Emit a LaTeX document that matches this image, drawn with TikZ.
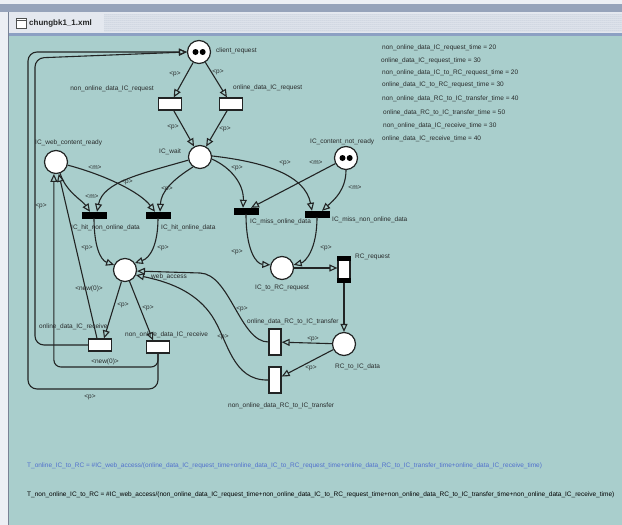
\documentclass[tikz,border=0pt]{standalone}
\usepackage{fontspec}
\setmainfont{Liberation Sans}
\usetikzlibrary{arrows.meta,patterns.meta}

\definecolor{canvas}{RGB}{169,206,204}
\definecolor{ink}{RGB}{34,36,36}
\definecolor{txt}{RGB}{40,43,43}
\definecolor{formulablue}{RGB}{80,112,205}
\definecolor{framebg}{RGB}{236,239,244}
\definecolor{bandc}{RGB}{150,163,186}
\definecolor{titlebg}{RGB}{228,232,239}
\definecolor{titleline}{RGB}{140,160,195}

\begin{document}
\begin{tikzpicture}[x=1pt,y=-1pt,
  place/.style={circle,draw=ink,fill=white,line width=1.2pt,minimum size=23pt,inner sep=0pt},
  trans/.style={rectangle,draw=ink,fill=white,line width=1.2pt,minimum width=23pt,minimum height=12pt,inner sep=0pt},
  vtrans/.style={trans,minimum width=12pt,minimum height=26pt},
  imm/.style={rectangle,fill=black,draw=black,minimum width=24pt,minimum height=6pt,inner sep=0pt},
  arc/.style={draw=ink,line width=1.1pt,-{Triangle[open,length=8pt,width=7pt]}},
  lbl/.style={font=\fontsize{6.5}{7}\selectfont,text=txt,inner sep=0pt},
  token/.style={circle,fill=black,inner sep=0pt,minimum size=6pt}
]
\useasboundingbox (0,0) rectangle (622,525);

% window frame
\fill[framebg] (0,0) rectangle (622,525);
\fill[bandc] (0,4) rectangle (622,12);
\fill[titlebg] (9,12) rectangle (622,33);
\fill[pattern={Dots[distance=2pt,radius=0.5pt]},pattern color=bandc] (104,14) rectangle (622,31);
\fill[titleline] (9,33) rectangle (622,35.5);
\fill[canvas] (9,35.5) rectangle (622,525);
\draw[bandc!80!black,line width=1pt] (8.5,12) -- (8.5,525);
\node[draw=ink!80,fill=white,line width=0.7pt,minimum width=10pt,minimum height=10pt,inner sep=0pt] (winicon) at (21,23) {};
\draw[ink!80,line width=0.7pt] ([yshift=-2.5pt]winicon.north west) -- ([yshift=-2.5pt]winicon.north east);
\node[anchor=west,font=\bfseries\fontsize{8}{9}\selectfont,text=ink,inner sep=0pt] (title) at (29,23.5) {chungbk1\_1.xml};

% places
\node[place] (cr) at (199,52) {};
\node[token] (crA) at (195.5,52) {};
\node[token] (crB) at (202.7,52) {};
\node[place] (wait) at (200,157) {};
\node[place] (wcr) at (56,162) {};
\node[place] (cnr) at (346,158) {};
\node[token] (cnrA) at (342.5,158) {};
\node[token] (cnrB) at (349.7,158) {};
\node[place] (wa) at (125,270) {};
\node[place] (i2r) at (282,268) {};
\node[place] (r2i) at (344,344) {};

% transitions
\node[trans] (t1) at (170,104) {};
\node[trans] (t2) at (231,104) {};
\node[imm] (hitN) at (94,215) {};
\node[imm] (hitO) at (158,215) {};
\node[imm] (missO) at (246,211) {};
\node[imm] (missN) at (317,214) {};
\node[vtrans] (rcreq) at (344,269.5) {};
\fill[black] (rcreq.north west) rectangle ([yshift=-5pt]rcreq.north east);
\fill[black] ([yshift=5pt]rcreq.south west) rectangle (rcreq.south east);
\node[trans] (recO) at (100,345) {};
\node[trans] (recN) at (158,347) {};
\node[vtrans] (trO) at (275,342) {};
\node[vtrans] (trN) at (275,380) {};

% names
\node[lbl,anchor=west] (Lcr) at (216,51) {client\_request};
\node[lbl,anchor=east] (Lt1) at (154,89) {non\_online\_data\_IC\_request};
\node[lbl,anchor=west] (Lt2) at (233,88) {online\_data\_IC\_request};
\node[lbl,anchor=west] (Lwait) at (159,152) {IC\_wait};
\node[lbl,anchor=west] (Lwcr) at (35,143) {IC\_web\_content\_ready};
\node[lbl,anchor=west] (Lcnr) at (310,142) {IC\_content\_not\_ready};
\node[lbl,anchor=west] (LhitN) at (71,228) {IC\_hit\_non\_online\_data};
\node[lbl,anchor=west] (LhitO) at (161,228) {IC\_hit\_online\_data};
\node[lbl,anchor=west] (LmissO) at (250,222) {IC\_miss\_online\_data};
\node[lbl,anchor=west] (LmissN) at (332,220) {IC\_miss\_non\_online\_data};
\node[lbl,anchor=west] (Lwa) at (151,277) {web\_access};
\node[lbl,anchor=west] (Li2r) at (255,288) {IC\_to\_RC\_request};
\node[lbl,anchor=west] (Lrcreq) at (355,257) {RC\_request};
\node[lbl,anchor=west] (Lr2i) at (335,367) {RC\_to\_IC\_data};
\node[lbl,anchor=west] (LrecO) at (39,327) {online\_data\_IC\_receive};
\node[lbl,anchor=west] (LrecN) at (125,335) {non\_online\_data\_IC\_receive};
\node[lbl,anchor=west] (LtrO) at (247,322) {online\_data\_RC\_to\_IC\_transfer};
\node[lbl,anchor=west] (LtrN) at (228,406) {non\_online\_data\_RC\_to\_IC\_transfer};

% arcs
\draw[arc] (cr) -- (t1);
\draw[arc] (cr) -- (t2);
\draw[arc] (t1) -- (wait);
\draw[arc] (t2) -- (wait);
\draw[arc] (wait.195) .. controls (140,174) and (103,182) .. ([xshift=3pt]hitN.north);
\draw[arc] (wait.235) .. controls (172,180) and (161,192) .. ([xshift=2pt]hitO.north);
\draw[arc] (wcr.290) .. controls (66,192) and (82,200) .. ([xshift=-4pt]hitN.north);
\draw[arc] (wcr.345) .. controls (105,175) and (140,192) .. ([xshift=-3pt]hitO.north);
\draw[arc] (hitN.south) .. controls (94,245) and (100,260) .. (wa.155);
\draw[arc] (hitO.south) .. controls (158,245) and (150,258) .. (wa.35);
\draw[arc] (wait.350) .. controls (232,168) and (244,185) .. ([xshift=-3pt]missO.north);
\draw[arc] (wait.5) .. controls (265,162) and (305,175) .. ([xshift=-5pt]missN.north);
\draw[arc] (cnr) -- ([xshift=5pt]missO.north);
\draw[arc] (cnr.south) .. controls (346,190) and (334,200) .. ([xshift=5pt]missN.north);
\draw[arc] (missO.south) .. controls (246,250) and (256,264) .. (i2r.165);
\draw[arc] (missN.south) .. controls (317,250) and (305,262) .. (i2r.15);
\draw[arc] (i2r.east) -- (i2r.east -| rcreq.west);
\draw[arc] (rcreq) -- (r2i);
\draw[arc] (r2i) -- (trO);
\draw[arc] (r2i) -- (trN);
\draw[arc] (trO.west) .. controls (240,342) and (230,274) .. (200,273) -- (wa.-5);
\draw[arc] (trN.west) .. controls (232,381) and (228,340) .. (212,316) .. controls (198,295) and (175,283) .. (wa.-25);
\draw[arc] (wa) -- ([xshift=4pt]recO.north);
\draw[arc] (wa) -- ([xshift=-5pt]recN.north);
\draw[arc] ([xshift=-3pt]recO.north) -- (wcr);
\draw[arc,rounded corners=7pt] (recN.south) -- (recN.south |- 0,367) -- (wcr.260 |- 0,367) -- (wcr.260);
\draw[arc,rounded corners=9pt] (recO.west) -- (recO.west -| 35,0) -- (35,58) -- (cr.west);
\draw[arc,rounded corners=9pt] (recN.south) -- (recN.south |- 0,389) -- (28,389) -- (28,52) -- (cr.west);

% arc inscriptions
\node[lbl] (p1) at (175,74) {<p>};
\node[lbl] (p2) at (218,72) {<p>};
\node[lbl] (p3) at (173,127) {<p>};
\node[lbl] (p4) at (225,129) {<p>};
\node[lbl] (p5) at (127,182) {<p>};
\node[lbl] (p6) at (167,189) {<p>};
\node[lbl] (m1) at (92,197) {<m>};
\node[lbl] (m2) at (95,168) {<m>};
\node[lbl] (p7) at (87,248) {<p>};
\node[lbl] (p8) at (163,248) {<p>};
\node[lbl] (p9) at (237,168) {<p>};
\node[lbl] (p10) at (285,163) {<p>};
\node[lbl] (m3) at (316,163) {<m>};
\node[lbl] (m4) at (355,188) {<m>};
\node[lbl] (p11) at (237,252) {<p>};
\node[lbl] (p12) at (326,248) {<p>};
\node[lbl] (p13) at (313,339) {<p>};
\node[lbl] (p14) at (311,368) {<p>};
\node[lbl] (p15) at (242,309) {<p>};
\node[lbl] (p16) at (223,337) {<p>};
\node[lbl] (p17) at (123,305) {<p>};
\node[lbl] (p18) at (148,308) {<p>};
\node[lbl] (n1) at (89,289) {<new(0)>};
\node[lbl] (n2) at (105,362) {<new(0)>};
\node[lbl] (p19) at (41,206) {<p>};
\node[lbl] (p20) at (90,397) {<p>};

% timing parameters
\node[lbl,anchor=west] (v1) at (382,48) {non\_online\_data\_IC\_request\_time = 20};
\node[lbl,anchor=west] (v2) at (381,61) {online\_data\_IC\_request\_time = 30};
\node[lbl,anchor=west] (v3) at (382,73) {non\_online\_data\_IC\_to\_RC\_request\_time = 20};
\node[lbl,anchor=west] (v4) at (382,85) {online\_data\_IC\_to\_RC\_request\_time = 30};
\node[lbl,anchor=west] (v5) at (382,99) {non\_online\_data\_RC\_to\_IC\_transfer\_time = 40};
\node[lbl,anchor=west] (v6) at (383,113) {online\_data\_RC\_to\_IC\_transfer\_time = 50};
\node[lbl,anchor=west] (v7) at (383,126) {non\_online\_data\_IC\_receive\_time = 30};
\node[lbl,anchor=west] (v8) at (382,139) {online\_data\_IC\_receive\_time = 40};

% throughput formulas
\node[lbl,anchor=west,text=formulablue] (f1) at (27,466) {T\_online\_IC\_to\_RC = \#IC\_web\_access/(online\_data\_IC\_request\_time+online\_data\_IC\_to\_RC\_request\_time+online\_data\_RC\_to\_IC\_transfer\_time+online\_data\_IC\_receive\_time)};
\node[lbl,anchor=west,text=black] (f2) at (27,495) {T\_non\_online\_IC\_to\_RC = \#IC\_web\_access/(non\_online\_data\_IC\_request\_time+non\_online\_data\_IC\_to\_RC\_request\_time+non\_online\_data\_RC\_to\_IC\_transfer\_time+non\_online\_data\_IC\_receive\_time)};
\end{tikzpicture}
\end{document}
